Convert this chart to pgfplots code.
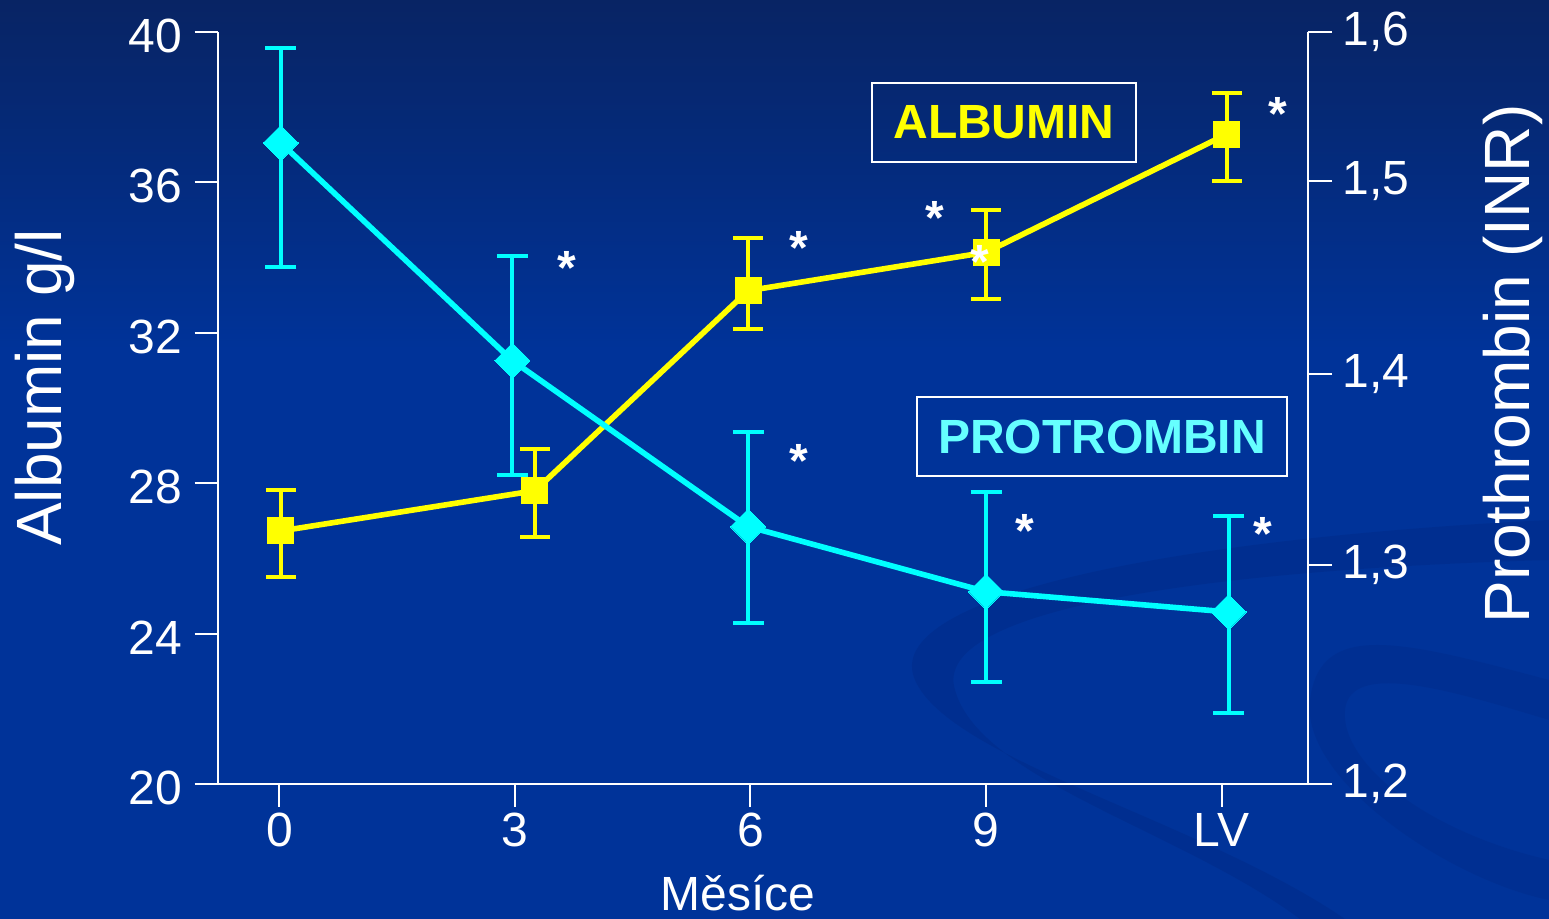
\documentclass[border=0pt]{standalone}
\usepackage{pgfplots}
\pgfplotsset{compat=1.18}
\usepackage{fontspec}
\setmainfont{Liberation Sans}
\definecolor{bgtop}{RGB}{8,36,100}
\definecolor{bgmain}{RGB}{0,51,153}
\definecolor{swoosh}{RGB}{0,44,138}
\definecolor{protcol}{RGB}{102,255,255}
\definecolor{cyanline}{RGB}{0,255,255}
\definecolor{yellowline}{RGB}{255,255,0}
\newcommand{\tickfont}{\fontsize{24pt}{28pt}\selectfont}
\newcommand{\labfont}{\fontsize{32pt}{38pt}\selectfont}

\pgfplotstableread{
x      y      ep     em
0.006  26.73  1.09   1.22
1.085  27.80  1.11   1.22
1.990  33.12  1.41   1.01
3.000  34.14  1.13   1.23
4.022  37.28  1.11   1.23
}\albumin

\pgfplotstableread{
x      y       ep      em
0.006  1.5410  0.0506  0.0660
0.989  1.4252  0.0558  0.0608
1.990  1.3369  0.0503  0.0511
3.000  1.3023  0.0529  0.0479
4.030  1.2915  0.0511  0.0537
}\protrombin

\begin{document}
\begin{tikzpicture}
\useasboundingbox (0,0) rectangle (774.5pt,459.5pt);
% background
\fill[bgmain] (0,0) rectangle (774.5pt,459.5pt);
\shade[top color=bgtop, bottom color=bgmain] (0pt,284.5pt) rectangle (774.5pt,459.5pt);
\begin{scope}[shift={(0pt,459.5pt)}, x=0.5pt, y=-0.5pt]
  \fill[swoosh, opacity=0.6] (1549,520) .. controls (1150,540) and (880,600) .. (915,680)
     .. controls (950,760) and (1200,820) .. (1345,919) -- (1300,919)
     .. controls (1180,830) and (980,780) .. (955,690)
     .. controls (930,610) and (1200,570) .. (1549,560) -- cycle;
  \fill[swoosh, opacity=0.45] (1549,680) .. controls (1400,640) and (1320,620) .. (1310,700)
     .. controls (1300,780) and (1450,880) .. (1549,900) -- (1549,860)
     .. controls (1420,830) and (1340,760) .. (1345,710)
     .. controls (1350,660) and (1450,690) .. (1549,720) -- cycle;
\end{scope}

\begin{axis}[
  at={(108.85pt,67.5pt)}, anchor=south west,
  scale only axis, width=545.15pt, height=376pt,
  xmin=-0.262, xmax=4.367, ymin=20, ymax=40,
  axis x line*=bottom, axis y line*=left,
  axis line style={-, white, line width=1pt},
  xtick={0,1,2,3,4}, xticklabels={0,3,6,9,LV},
  ytick={20,24,28,32,36,40}, yticklabels={20,24,28,32,36,40},
  tick style={white, line width=1pt},
  tick align=outside,
  major tick length=11.5pt,
  ticklabel style={font=\tickfont, text=white},
  xticklabel style={inner sep=3pt},
  yticklabel style={inner sep=6pt, yshift=-2pt},
  clip=false,
]
\addplot[yellowline, line width=2.8pt, mark=square*, mark size=6.5pt,
  mark options={solid, fill=yellowline, draw=yellowline, line width=0pt},
  error bars/.cd, y dir=both, y explicit,
  error bar style={line width=2pt, yellowline},
  error mark options={rotate=90, mark size=7.5pt, line width=2pt, yellowline}]
  table[x=x, y=y, y error plus=ep, y error minus=em] {\albumin};
\end{axis}

\begin{axis}[
  at={(108.85pt,67.5pt)}, anchor=south west,
  scale only axis, width=545.15pt, height=376pt,
  xmin=-0.262, xmax=4.367, ymin=1.2, ymax=1.6,
  axis x line=none, axis y line*=right,
  axis line style={-, white, line width=1pt},
  ytick={1.2,1.3165,1.4181,1.5207,1.6},
  yticklabels={{1,2},{1,3},{1,4},{1,5},{1,6}},
  tick style={white, line width=1pt},
  tick align=outside,
  major tick length=12pt,
  ticklabel style={font=\tickfont, text=white},
  yticklabel style={inner sep=5pt},
  clip=false,
]
\addplot[cyanline, line width=2.8pt, mark=square*, mark size=6.2pt,
  mark options={solid, rotate=45, fill=cyanline, draw=cyanline, line width=0pt},
  error bars/.cd, y dir=both, y explicit,
  error bar style={line width=2pt, cyanline},
  error mark options={rotate=90, mark size=7.75pt, line width=2pt, cyanline}]
  table[x=x, y=y, y error plus=ep, y error minus=em] {\protrombin};
\end{axis}

\begin{scope}[shift={(0pt,459.5pt)}, x=0.5pt, y=-0.5pt]
  % axis titles
  \node[rotate=90, anchor=base, text=white, font=\labfont, inner sep=0pt] at (62,387.5) {Albumin g/l};
  \node[rotate=90, anchor=base, text=white, font=\labfont, inner sep=0pt] at (1529,364) {Prothrombin (INR)};
  \node[anchor=base, text=white, font=\tickfont, inner sep=0pt] at (738,911) {Měsíce};
  % legend boxes
  \node[draw=white, line width=1pt, minimum width=132pt, minimum height=39.5pt, inner sep=0pt,
        text=yellowline, font=\tickfont\bfseries] at (1004,122.5) {ALBUMIN};
  \node[draw=white, line width=1pt, minimum width=185pt, minimum height=39.5pt, inner sep=0pt,
        text=protcol, font=\tickfont\bfseries] at (1102,436.5) {PROTROMBIN};
  % significance asterisks
  \foreach \ax/\ay in {567/262, 799/242, 935/212, 980/256, 1278/108, 799/455, 1025/525, 1263/528}
    \node[anchor=base, text=white, font=\tickfont\bfseries, inner sep=0pt] at (\ax,\ay+23) {*};
\end{scope}
\end{tikzpicture}
\end{document}
